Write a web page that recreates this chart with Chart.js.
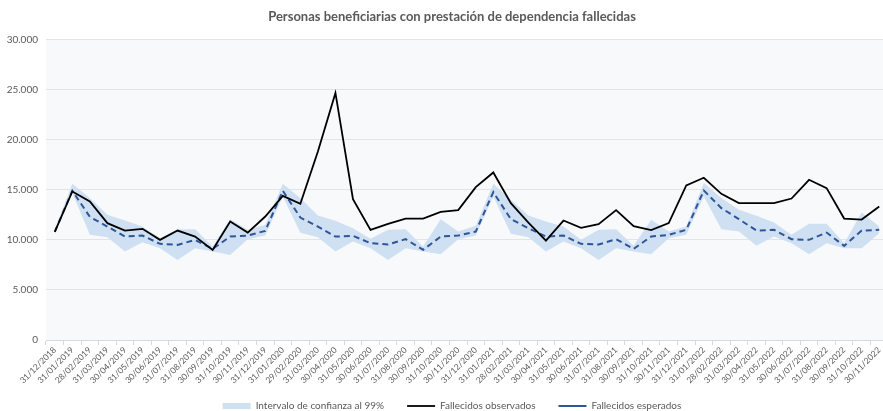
<!DOCTYPE html>
<html>
<head>
<meta charset="utf-8">
<script src="https://cdn.jsdelivr.net/npm/chart.js@4"></script>
<style>
  html, body { margin: 0; padding: 0; background: #ffffff; overflow: hidden; }
  #wrap { width: 904px; height: 411px; }
</style>
</head>
<body>
<div id="wrap"><canvas id="deathsChart" width="904" height="411"></canvas></div>
<script>
const fechas = [
  '31/12/2018',
  '31/01/2019', '28/02/2019', '31/03/2019', '30/04/2019', '31/05/2019', '30/06/2019',
  '31/07/2019', '31/08/2019', '30/09/2019', '31/10/2019', '30/11/2019', '31/12/2019',
  '31/01/2020', '29/02/2020', '31/03/2020', '30/04/2020', '31/05/2020', '30/06/2020',
  '31/07/2020', '31/08/2020', '30/09/2020', '31/10/2020', '30/11/2020', '31/12/2020',
  '31/01/2021', '28/02/2021', '31/03/2021', '30/04/2021', '31/05/2021', '30/06/2021',
  '31/07/2021', '31/08/2021', '30/09/2021', '31/10/2021', '30/11/2021', '31/12/2021',
  '31/01/2022', '28/02/2022', '31/03/2022', '30/04/2022', '31/05/2022', '30/06/2022',
  '31/07/2022', '31/08/2022', '30/09/2022', '31/10/2022', '30/11/2022'
];

const observados = [
  10800, 14830, 13830, 11670, 10930, 11100, 10000, 10930, 10330, 9000, 11830, 10730,
  12330, 14400, 13600, 18830, 24670, 14070, 11000, 11600, 12130, 12130, 12800, 12970,
  15270, 16730, 13670, 11730, 9930, 11930, 11200, 11570, 12970, 11370, 10970, 11670,
  15430, 16200, 14600, 13670, 13670, 13670, 14130, 16000, 15170, 12130, 12030, 13330
];

const esperados = [
  10800, 14900, 12300, 11330, 10330, 10430, 9600, 9500, 10000, 9100, 10330, 10430,
  10900, 14900, 12230, 11330, 10330, 10400, 9670, 9530, 10070, 9000, 10330, 10430,
  10830, 14770, 12070, 11170, 10330, 10430, 9600, 9530, 10070, 9100, 10330, 10500,
  11000, 14930, 13170, 12070, 10930, 11000, 10070, 10000, 10730, 9400, 10930, 11000
];

const limiteSuperior = [
  11000, 15600, 14170, 12500, 11930, 11330, 10170, 11070, 11070, 9330, 12070, 11000,
  11500, 15600, 14170, 12430, 11900, 11170, 10100, 11000, 11070, 9330, 12070, 10830,
  11400, 15600, 14000, 12430, 11830, 11330, 10000, 11000, 11070, 9400, 12000, 10830,
  11330, 15670, 14170, 13000, 12400, 11730, 10500, 11600, 11600, 9670, 12730, 11330
];

const limiteInferior = [
  10700, 14670, 10500, 10270, 8830, 9770, 9170, 8000, 9170, 8830, 8500, 10070,
  10430, 14330, 10700, 10270, 8830, 9830, 9170, 8000, 9170, 8830, 8570, 10070,
  10430, 14330, 10600, 10270, 8830, 9830, 9170, 8000, 9170, 8830, 8570, 10170,
  10500, 14330, 11070, 10830, 9400, 10330, 9670, 8570, 9670, 9170, 9170, 10670
];

const textGrey = '#595959';
const fontFamily = 'Lato, "Liberation Sans", sans-serif';

// light background behind the plot area, like the Excel original
const plotBackground = {
  id: 'plotBackground',
  beforeDraw(chart) {
    const { ctx, chartArea } = chart;
    ctx.save();
    ctx.fillStyle = '#f8f9fb';
    ctx.fillRect(chartArea.left, chartArea.top, chartArea.right - chartArea.left, chartArea.bottom - chartArea.top);
    ctx.restore();
  }
};

function milesConPunto(v) {
  return v.toString().replace(/\B(?=(\d{3})+(?!\d))/g, '.');
}

// default legend items, minus the lower band line, with some extra room after each text
function leyenda(chart) {
  const items = Chart.defaults.plugins.legend.labels.generateLabels(chart)
    .filter(item => item.text !== 'inferior')
    .sort((a, b) => a.datasetIndex - b.datasetIndex);
  items.forEach((item, i) => {
    if (i < items.length - 1) item.text += '\u2002\u2002\u2002';
  });
  return items;
}

const ctx = document.getElementById('deathsChart').getContext('2d');
new Chart(ctx, {
  type: 'line',
  data: {
    labels: fechas,
    datasets: [
      {
        label: 'Intervalo de confianza al 99%',
        data: limiteSuperior,
        borderWidth: 0,
        borderColor: 'rgba(0,0,0,0)',
        backgroundColor: '#cfe0f3',
        pointRadius: 0,
        pointStyle: 'rect',
        fill: '+1',
        order: 3
      },
      {
        label: 'inferior',
        data: limiteInferior,
        borderWidth: 0,
        borderColor: 'rgba(0,0,0,0)',
        backgroundColor: '#cfe0f3',
        pointRadius: 0,
        fill: false,
        order: 4
      },
      {
        label: 'Fallecidos observados',
        data: observados,
        borderColor: '#000000',
        backgroundColor: '#000000',
        borderWidth: 1.8,
        pointRadius: 0,
        pointStyle: 'line',
        fill: false,
        tension: 0,
        order: 1
      },
      {
        label: 'Fallecidos esperados',
        data: esperados,
        borderColor: '#2f5597',
        backgroundColor: '#2f5597',
        borderWidth: 2,
        borderDash: [6, 4],
        pointRadius: 0,
        pointStyle: 'line',
        fill: false,
        tension: 0,
        order: 2
      }
    ]
  },
  options: {
    responsive: false,
    animation: false,
    layout: { padding: { left: 0, right: 0, top: 0, bottom: -10 } },
    plugins: {
      title: {
        display: true,
        text: 'Personas beneficiarias con prestación de dependencia fallecidas',
        color: textGrey,
        font: { family: fontFamily, size: 13, weight: 'bold', lineHeight: 1.2 },
        padding: { top: 9, bottom: 15 }
      },
      legend: {
        position: 'bottom',
        labels: {
          generateLabels: leyenda,
          usePointStyle: true,
          pointStyleWidth: 28,
          boxHeight: 6,
          padding: 8,
          color: textGrey,
          font: { family: fontFamily, size: 10 }
        }
      },
      tooltip: { enabled: false }
    },
    scales: {
      x: {
        offset: true,
        afterFit: scale => { scale.height = 53; },
        grid: {
          offset: true,
          drawOnChartArea: false,
          drawTicks: true,
          tickLength: 5,
          color: '#d9d9d9'
        },
        border: { color: '#d9d9d9' },
        ticks: {
          autoSkip: false,
          maxRotation: 45,
          minRotation: 45,
          padding: 0,
          color: textGrey,
          font: { family: fontFamily, size: 8.5 }
        }
      },
      y: {
        min: 0,
        max: 30000,
        afterFit: scale => { scale.width = 46; },
        ticks: {
          stepSize: 5000,
          padding: 8,
          color: textGrey,
          font: { family: fontFamily, size: 10 },
          callback: v => milesConPunto(v)
        },
        grid: { color: '#e4e4e4', drawTicks: false },
        border: { display: false }
      },
      // empty right axis only to keep the plot edge where the original has it
      margenDerecho: {
        type: 'linear',
        position: 'right',
        afterFit: scale => { scale.width = 16; },
        ticks: { display: false },
        grid: { display: false },
        border: { display: false }
      }
    }
  },
  plugins: [plotBackground]
});
</script>
</body>
</html>
